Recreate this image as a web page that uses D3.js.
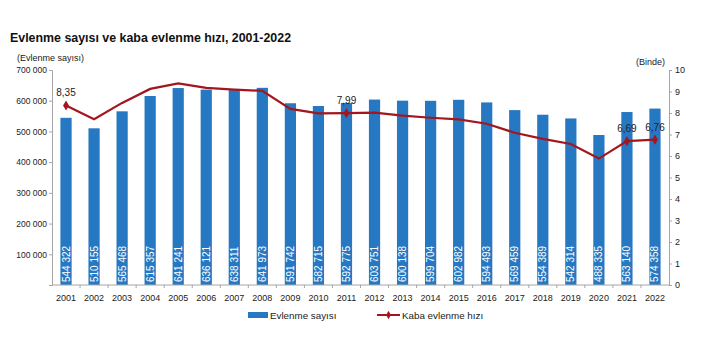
<!DOCTYPE html>
<html>
<head>
<meta charset="utf-8">
<script src="https://cdn.jsdelivr.net/npm/d3@7"></script>
<style>
  body { margin: 0; background: #fff; }
  svg { font-family: "Liberation Sans", Arial, sans-serif; }
</style>
</head>
<body>
<svg id="chart" width="702" height="351"></svg>
<script>
// data
const years = ["2001","2002","2003","2004","2005","2006","2007","2008","2009","2010","2011",
               "2012","2013","2014","2015","2016","2017","2018","2019","2020","2021","2022"];
const marriages = [544322, 510155, 565468, 615357, 641241, 636121, 638311, 641973, 591742, 582715, 592775,
                   603751, 600138, 599704, 602982, 594493, 569459, 554389, 542314, 488335, 563140, 574358];
const rate = [8.35, 7.71, 8.47, 9.12, 9.38, 9.17, 9.09, 9.03, 8.19, 7.98, 7.99,
              8.02, 7.88, 7.78, 7.70, 7.50, 7.08, 6.80, 6.56, 5.88, 6.69, 6.76];
const markedYears = ["2001", "2011", "2021", "2022"];
const leftTicks = [100000, 200000, 300000, 400000, 500000, 600000, 700000];
const rightTicks = [0,1,2,3,4,5,6,7,8,9,10];

const blue = "#2778c2", red = "#a3161d", axisGrey = "#a6a6a6";
const svg = d3.select("#chart");
const m = {top: 70, left: 52, right: 669, bottom: 285};

const fmt = v => d3.format(",")(v).replace(/,/g, " ");
const fmtRate = v => d3.format(".2f")(v).replace(".", ",");

let x = d3.scaleBand().domain(years).range([m.left, m.right]).paddingInner(0.6).paddingOuter(0.3);
let yL = d3.scaleLinear().domain([0, 700000]).range([m.bottom, m.top]);
let yR = d3.scaleLinear().domain([0, 10]).range([m.bottom, m.top]);

// title
svg.append("text").attr("x", 10).attr("y", 42)
  .attr("font-size", 12.4).attr("font-weight", "bold").attr("fill", "#111")
  .text("Evlenme sayısı ve kaba evlenme hızı, 2001-2022");
svg.append("text").attr("x", 17).attr("y", 61).attr("font-size", 9).attr("fill", "#222")
  .text("(Evlenme sayısı)");
svg.append("text").attr("x", 665).attr("y", 65).attr("text-anchor", "end")
  .attr("font-size", 9).attr("fill", "#222").text("(Binde)");

// bars
svg.append("g").selectAll("rect").data(marriages).join("rect")
  .attr("x", (d, i) => x(years[i]))
  .attr("width", x.bandwidth())
  .attr("y", d => yL(d))
  .attr("height", d => m.bottom - yL(d))
  .attr("fill", blue);

// bar value labels (vertical, white)
svg.append("g").selectAll("text").data(marriages).join("text")
  .attr("transform", (d, i) => `translate(${x(years[i]) + x.bandwidth() / 2 + 3.5},${m.bottom - 3}) rotate(-90)`)
  .attr("font-size", 10).attr("fill", "#fff")
  .text(d => fmt(d));

// left axis
let axL = svg.append("g").attr("transform", `translate(${m.left},0)`)
  .call(d3.axisLeft(yL).tickValues([0].concat(leftTicks)).tickSize(3).tickFormat(d => d === 0 ? "" : fmt(d)));
axL.select(".domain").attr("stroke", axisGrey);
axL.selectAll(".tick line").attr("stroke", axisGrey);
axL.selectAll("text").attr("font-size", 8.5).attr("fill", "#222").attr("x", -5);
svg.append("text").attr("x", 47).attr("y", 73).attr("text-anchor", "end")
  .attr("font-size", 8.5).attr("fill", "#222").text("700 000");
axL.selectAll(".tick").filter(d => d === 700000).select("text").remove();

// right axis
let axR = svg.append("g").attr("transform", `translate(${m.right},0)`)
  .call(d3.axisRight(yR).tickValues(rightTicks).tickSize(3).tickFormat(d3.format("d")));
axR.select(".domain").attr("stroke", axisGrey);
axR.selectAll(".tick line").attr("stroke", axisGrey);
axR.selectAll("text").attr("font-size", 9).attr("fill", "#222").attr("x", 6);

// bottom axis
svg.append("line").attr("x1", m.left).attr("x2", m.right).attr("y1", m.bottom).attr("y2", m.bottom)
  .attr("stroke", axisGrey);
svg.append("g").selectAll("line").data(years.slice(1)).join("line")
  .attr("x1", d => x(d) - x.step() * x.paddingInner() / 2)
  .attr("x2", d => x(d) - x.step() * x.paddingInner() / 2)
  .attr("y1", m.bottom).attr("y2", m.bottom + 3).attr("stroke", axisGrey);
svg.append("g").selectAll("text").data(years).join("text")
  .attr("x", d => x(d) + x.bandwidth() / 2).attr("y", 301)
  .attr("text-anchor", "middle").attr("font-size", 9).attr("fill", "#222")
  .text(d => d);

// line
const line = d3.line().x((d, i) => x(years[i]) + x.bandwidth() / 2).y(d => yR(d));
svg.append("path").datum(rate).attr("d", line)
  .attr("fill", "none").attr("stroke", red).attr("stroke-width", 2.2);

const diamond = d3.symbol().type(d3.symbolDiamond).size(30);
const marked = years.map((y, i) => ({y, v: rate[i]})).filter(d => markedYears.includes(d.y));
svg.append("g").selectAll("path").data(marked).join("path")
  .attr("d", diamond)
  .attr("transform", d => `translate(${x(d.y) + x.bandwidth() / 2},${yR(d.v)})`)
  .attr("fill", red);
svg.append("g").selectAll("text").data(marked).join("text")
  .attr("x", d => x(d.y) + x.bandwidth() / 2).attr("y", d => yR(d.v) - 9)
  .attr("text-anchor", "middle").attr("font-size", 10).attr("fill", "#222")
  .text(d => fmtRate(d.v));

// legend
const lg = svg.append("g");
lg.append("rect").attr("x", 248).attr("y", 312).attr("width", 20).attr("height", 6).attr("fill", blue);
lg.append("text").attr("x", 270).attr("y", 319).attr("font-size", 9.8).attr("fill", "#222").text("Evlenme sayısı");
lg.append("line").attr("x1", 377).attr("x2", 400).attr("y1", 315).attr("y2", 315)
  .attr("stroke", red).attr("stroke-width", 2);
lg.append("path").attr("d", d3.symbol().type(d3.symbolDiamond).size(20))
  .attr("transform", "translate(388.5,315)").attr("fill", red);
lg.append("text").attr("x", 402).attr("y", 319).attr("font-size", 9.8).attr("fill", "#222").text("Kaba evlenme hızı");
</script>
</body>
</html>
